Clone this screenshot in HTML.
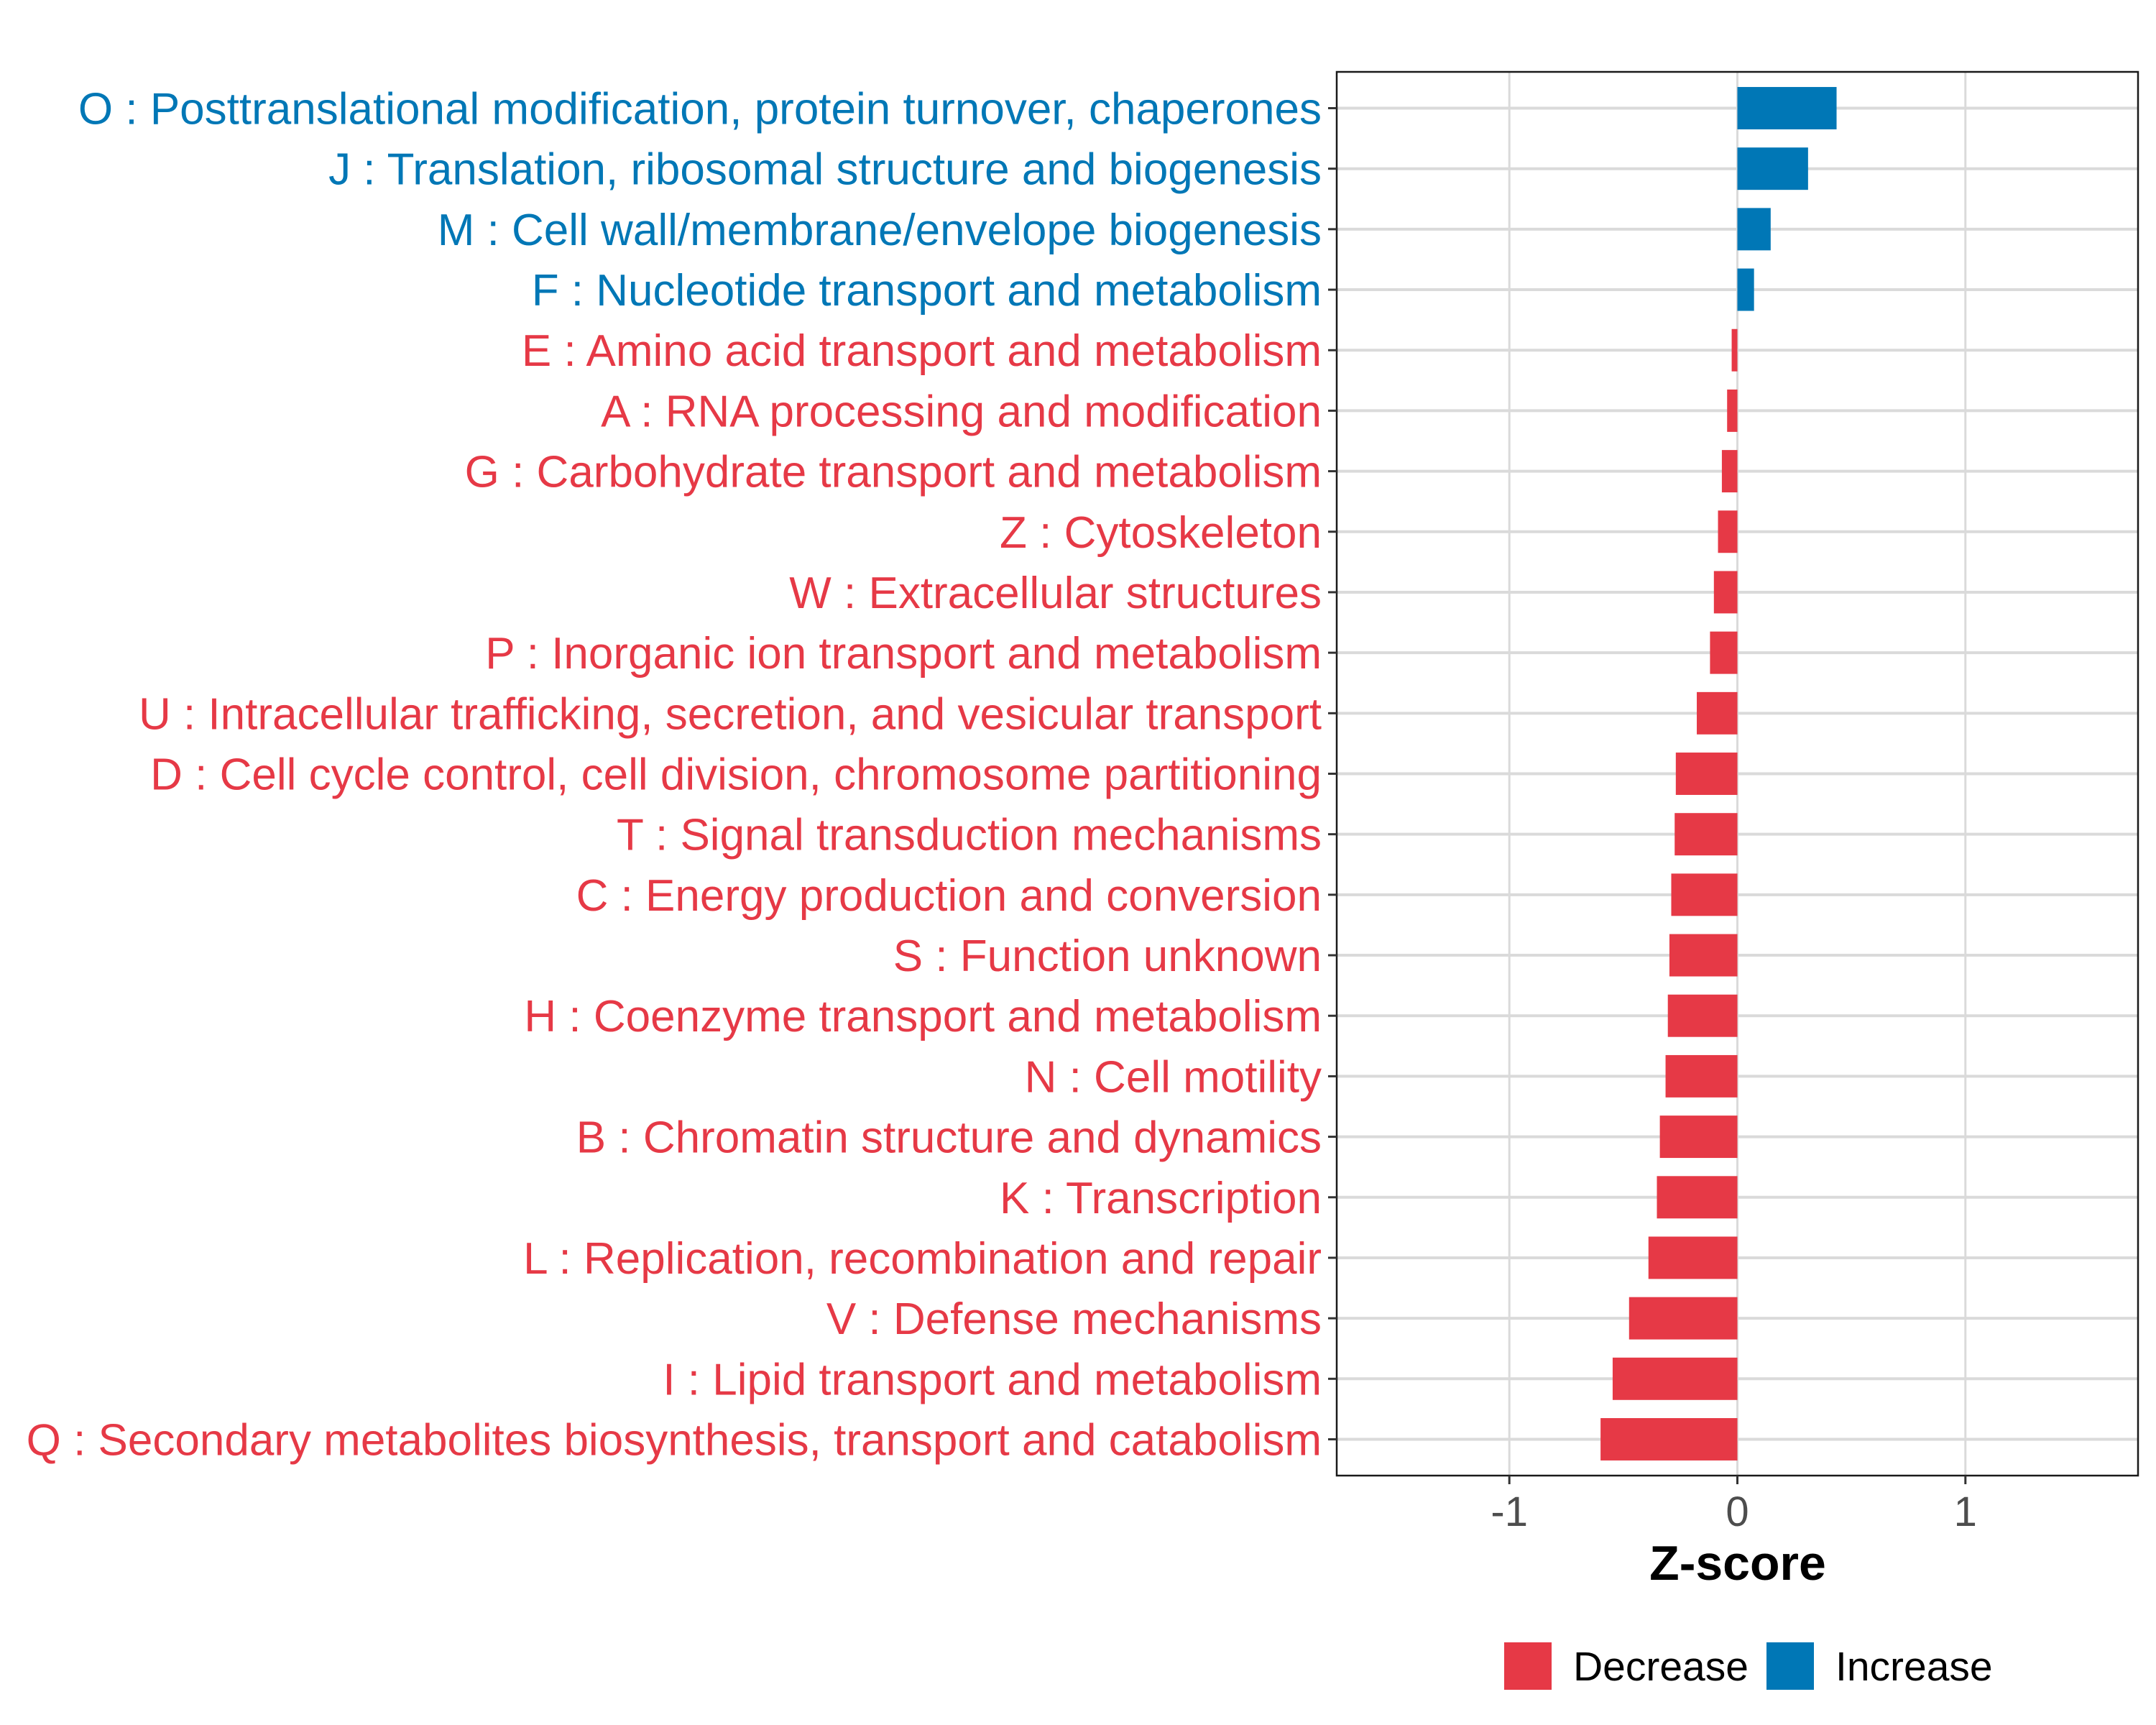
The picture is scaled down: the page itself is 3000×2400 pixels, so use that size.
<!DOCTYPE html>
<html><head><meta charset="utf-8">
<style>
html,body{margin:0;padding:0;background:#fff;}
svg{display:block;font-family:"Liberation Sans",Arial,sans-serif;}
</style></head>
<body>
<svg id="chart" width="3000" height="2400" viewBox="0 0 3000 2400" xmlns="http://www.w3.org/2000/svg">
<rect x="0" y="0" width="3000" height="2400" fill="#fff"/>
<g id="grid"></g>
<g id="bars"></g>
<rect x="1860" y="100" width="1115" height="1953" fill="none" stroke="#1a1a1a" stroke-width="2.5"/>
<g id="ylabels"></g>
<g id="xticks"></g>
<text x="2418" y="2198" text-anchor="middle" font-size="68" font-weight="bold" fill="#000">Z-score</text>
<g>
<rect x="2093" y="2285" width="66" height="66" fill="#e63946"/>
<text x="2189" y="2338" font-size="57" fill="#000">Decrease</text>
<rect x="2458" y="2285" width="66" height="66" fill="#0077b6"/>
<text x="2554" y="2338" font-size="57" fill="#000">Increase</text>
</g>
</svg>
<script>
const categories = [
 "O : Posttranslational modification, protein turnover, chaperones",
 "J : Translation, ribosomal structure and biogenesis",
 "M : Cell wall/membrane/envelope biogenesis",
 "F : Nucleotide transport and metabolism",
 "E : Amino acid transport and metabolism",
 "A : RNA processing and modification",
 "G : Carbohydrate transport and metabolism",
 "Z : Cytoskeleton",
 "W : Extracellular structures",
 "P : Inorganic ion transport and metabolism",
 "U : Intracellular trafficking, secretion, and vesicular transport",
 "D : Cell cycle control, cell division, chromosome partitioning",
 "T : Signal transduction mechanisms",
 "C : Energy production and conversion",
 "S : Function unknown",
 "H : Coenzyme transport and metabolism",
 "N : Cell motility",
 "B : Chromatin structure and dynamics",
 "K : Transcription",
 "L : Replication, recombination and repair",
 "V : Defense mechanisms",
 "I : Lipid transport and metabolism",
 "Q : Secondary metabolites biosynthesis, transport and catabolism"
];
const zscores = [0.435, 0.31, 0.146, 0.073, -0.025, -0.045, -0.068, -0.085, -0.103, -0.12, -0.178, -0.27, -0.275, -0.29, -0.298, -0.305, -0.315, -0.34, -0.353, -0.39, -0.475, -0.547, -0.60];
const xTicks = [-1, 0, 1];
const xTickLabels = ["-1", "0", "1"];

const NS = "http://www.w3.org/2000/svg";
const PL = 1860, PR = 2975, PT = 100, PB = 2053;
const XMIN = -1.757, XMAX = 1.757;
function xScale(v){ return PL + (v - XMIN) / (XMAX - XMIN) * (PR - PL); }
const n = categories.length;
const band = (PB - PT) / (n + 0.2);
function yScale(i){ return PT + band * (0.6 + i); }
function mk(tag, attrs, parent){ const e = document.createElementNS(NS, tag); for (const k in attrs) e.setAttribute(k, attrs[k]); parent.appendChild(e); return e; }

const grid = document.getElementById('grid');
xTicks.forEach(t => {
  const l = mk('line', {x1: xScale(t), x2: xScale(t), y1: PT, y2: PB, stroke: '#dadada', 'stroke-width': 3}, grid);
  
  
});
categories.forEach((c, i) => {
  const l = mk('line', {x1: PL, x2: PR, y1: yScale(i), y2: yScale(i), stroke: '#dadada', 'stroke-width': 4}, grid);
  
  
});

const bars = document.getElementById('bars');
const ylab = document.getElementById('ylabels');
categories.forEach((c, i) => {
  const v = zscores[i];
  const col = v >= 0 ? '#0077b6' : '#e63946';
  const x0 = xScale(Math.min(0, v)), x1 = xScale(Math.max(0, v));
  const r = mk('rect', {x: x0, y: yScale(i) - band * 0.35, width: Math.max(0, x1 - x0), height: band * 0.7, fill: col}, bars);
  
  
  const tk = mk('line', {x1: PL - 12, x2: PL, y1: yScale(i), y2: yScale(i), stroke: '#333', 'stroke-width': 3}, ylab);
  
  
  const t = mk('text', {x: PL - 21, y: yScale(i) + 22, 'text-anchor': 'end', 'font-size': 62, fill: col}, ylab);
  t.textContent = c;
  
  
});

const xt = document.getElementById('xticks');
xTicks.forEach((t, i) => {
  const l = mk('line', {x1: xScale(t), x2: xScale(t), y1: PB, y2: PB + 12, stroke: '#333', 'stroke-width': 3}, xt);
  
  
  const tx = mk('text', {x: xScale(t), y: PB + 70, 'text-anchor': 'middle', 'font-size': 58, fill: '#4d4d4d'}, xt);
  tx.textContent = xTickLabels[i];
  
  
});
</script>
</body></html>
